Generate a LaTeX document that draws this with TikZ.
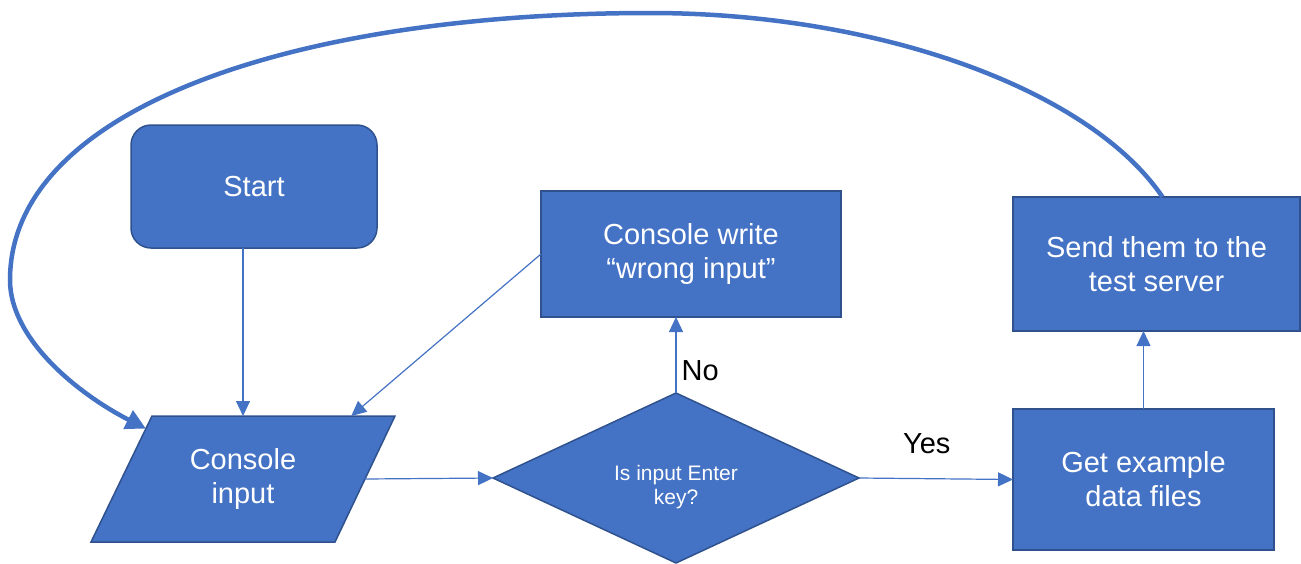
\documentclass[tikz,border=0pt]{standalone}
\usepackage{fontspec}
\setmainfont{Liberation Sans}
\usetikzlibrary{shapes.geometric,arrows.meta,calc}
\definecolor{boxfill}{HTML}{4472C4}
\definecolor{boxline}{HTML}{2F528F}
\definecolor{flow}{HTML}{4472C4}
\tikzset{
  shapefill/.style={draw=boxline, fill=boxfill, line width=1.5pt},
  boxtext/.style={text=white, font=\fontsize{29pt}{34pt}\selectfont, align=center,
    inner sep=0pt, outer sep=0pt},
  box/.style={shapefill, boxtext},
  flowline/.style={draw=flow, line width=1.2pt, -{Triangle[length=15pt,width=14pt]}},
  loopline/.style={draw=flow, line width=4.5pt, -{Triangle[length=20pt,width=20pt]}},
  lbl/.style={text=black, font=\fontsize{29pt}{34pt}\selectfont, inner sep=0pt}
}
\begin{document}
\begin{tikzpicture}[x=1pt,y=-1pt]
  \useasboundingbox (0,0) rectangle (1301,563);

  % process boxes
  \node[box, rounded corners=20pt, minimum width=246pt, minimum height=123pt] (start) at (254,186.5) {Start};
  \node[box, minimum width=300pt, minimum height=126pt] (write) at (691,254) {Console write\\“wrong input”};
  \node[box, minimum width=287pt, minimum height=134pt] (send) at (1156.5,264) {Send them to the\\test server};
  \node[box, minimum width=261pt, minimum height=141pt] (get) at (1143.5,479.5) {Get example\\data files};

  % input parallelogram: outline, corners and text
  \coordinate (inTL) at (152,416);
  \coordinate (inTR) at (395,416);
  \coordinate (inBR) at (335,542);
  \coordinate (inBL) at (91,542);
  \path[shapefill] (inTL) -- (inTR) -- (inBR) -- (inBL) -- cycle;
  \node[boxtext, minimum width=243pt, minimum height=126pt] (input) at (243,479) {Console\\input};

  % decision
  \node[shapefill, diamond, minimum width=366pt, minimum height=170pt, inner sep=0pt, outer sep=0pt] (dec) at (676,478) {};
  \node[boxtext, font=\fontsize{21pt}{24pt}\selectfont, yshift=-9pt] (dectext) at (dec) {Is input Enter\\key?};

  % connectors
  \draw[flowline] (input.north |- start.south) -- (input.north);
  \draw[flowline] (write.west) -- ($(inTL)!0.82!(inTR)$);
  \draw[flowline] (input.east) -- (dec.west);
  \draw[flowline] (dec.north) -- node[lbl, pos=0.3, anchor=west, xshift=5pt] {No} (dec.north |- write.south);
  \draw[flowline] (dec.east) -- node[lbl, pos=0.44, yshift=35pt] {Yes} (get.west);
  \draw[flowline] (get.north) -- (get.north |- send.south);

  % loop back from the server step to the console input
  \draw[loopline] ($(send.north)+(6,0)$)
    .. controls (1090,90) and (880,13) .. (650,13)
    .. controls (290,13) and (10,110) .. (10,280)
    .. controls (10,340) and (80,395) .. ($(inTL)!0.1!(inBL)$);
\end{tikzpicture}
\end{document}
